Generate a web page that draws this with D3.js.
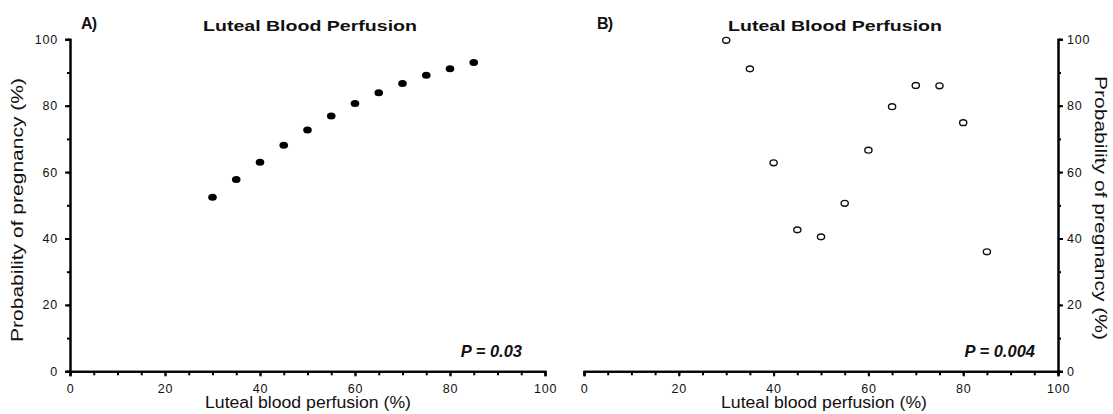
<!DOCTYPE html>
<html>
<head>
<script src="https://d3js.org/d3.v7.min.js"></script>
<style>
  body { margin: 0; background: #fff; }
  text { font-family: Arial, "Liberation Sans", sans-serif; fill: #111; }
</style>
</head>
<body>
<script>
// perfusion levels (%)
var perfusion = [30, 35, 40, 45, 50, 55, 60, 65, 70, 75, 80, 85];
// panel A: probability of pregnancy (%)
var probA = [52.4, 57.8, 63.0, 68.1, 72.7, 76.9, 80.7, 83.9, 86.7, 89.2, 91.1, 93.0];
// panel B: probability of pregnancy (%)
var probB = [99.7, 91.1, 62.8, 42.6, 40.5, 50.6, 66.6, 79.7, 86.1, 86.0, 74.9, 36.0];
var majorTicks = [0, 20, 40, 60, 80, 100];
var xMinor = d3.range(0, 101, 5);
var yMinor = d3.range(0, 101, 10);
var panelTitle = "Luteal Blood Perfusion";
var xTitle = "Luteal blood perfusion (%)";
var yTitle = "Probability of pregnancy (%)";
var pValues = ["P = 0.03", "P = 0.004"];

var width = 1113, height = 414;

var svg = d3.select("body").append("svg")
    .attr("width", width)
    .attr("height", height);

var y = d3.scaleLinear().domain([0, 100]).range([371.3, 39.3]);
var xA = d3.scaleLinear().domain([0, 100]).range([70, 545]);
var xB = d3.scaleLinear().domain([0, 100]).range([584, 1058]);

function styleAxis(g) {
  g.select(".domain").attr("stroke", "#000").attr("stroke-width", 2);
  g.selectAll(".tick line").attr("stroke", "#000").attr("stroke-width", 2);
  g.selectAll(".tick text").attr("font-size", 12.5).attr("fill", "#262626")
    .style("letter-spacing", "0.8px");
}

function drawPanel(x, yOrient, yPos) {
  // x axis: minor then major
  svg.append("g")
    .attr("transform", "translate(0," + y(0) + ")")
    .call(d3.axisBottom(x).tickValues(xMinor).tickSize(4).tickFormat(""))
    .call(styleAxis);
  svg.append("g")
    .attr("transform", "translate(0," + y(0) + ")")
    .call(d3.axisBottom(x).tickValues(majorTicks).tickSize(5).tickPadding(8).tickFormat(d3.format("d")))
    .call(styleAxis);

  var axisMaker = yOrient === "left" ? d3.axisLeft : d3.axisRight;
  svg.append("g")
    .attr("transform", "translate(" + yPos + ",0)")
    .call(axisMaker(y).tickValues(yMinor).tickSize(3).tickFormat(""))
    .call(styleAxis);
  svg.append("g")
    .attr("transform", "translate(" + yPos + ",0)")
    .call(axisMaker(y).tickValues(majorTicks).tickSize(5).tickPadding(yOrient === "left" ? 7 : 4).tickFormat(d3.format("d")))
    .call(styleAxis);
}

drawPanel(xA, "left", xA(0));
drawPanel(xB, "right", xB(100));

// points
svg.append("g").selectAll("ellipse")
  .data(perfusion)
  .join("ellipse")
    .attr("cx", function(d) { return xA(d); })
    .attr("cy", function(d, i) { return y(probA[i]); })
    .attr("rx", 4.3)
    .attr("ry", 3.5)
    .attr("fill", "#000");

svg.append("g").selectAll("ellipse")
  .data(perfusion)
  .join("ellipse")
    .attr("cx", function(d) { return xB(d); })
    .attr("cy", function(d, i) { return y(probB[i]); })
    .attr("rx", 3.6)
    .attr("ry", 2.9)
    .attr("fill", "none")
    .attr("stroke", "#111")
    .attr("stroke-width", 1.4);

// panel letters
svg.append("text").attr("x", 81).attr("y", 29).attr("font-size", 16)
  .attr("font-weight", "bold").attr("textLength", 16).text("A)");
svg.append("text").attr("x", 597).attr("y", 29).attr("font-size", 16)
  .attr("font-weight", "bold").attr("textLength", 16).text("B)");

// panel titles
[[310, 0], [835, 1]].forEach(function(p) {
  svg.append("text")
    .attr("x", p[0] - 107).attr("y", 30.5)
    .attr("font-size", 15).attr("font-weight", "bold")
    .attr("textLength", 214).attr("lengthAdjust", "spacingAndGlyphs")
    .text(panelTitle);
});

// x titles
[[308], [824]].forEach(function(p) {
  svg.append("text")
    .attr("x", p[0] - 103).attr("y", 408)
    .attr("font-size", 16).attr("fill", "#1a1a1a")
    .attr("textLength", 206).attr("lengthAdjust", "spacingAndGlyphs")
    .text(xTitle);
});

// y titles
svg.append("text")
  .attr("transform", "translate(23,210) rotate(-90)")
  .attr("x", -132).attr("font-size", 16).attr("fill", "#1a1a1a")
  .attr("textLength", 264).attr("lengthAdjust", "spacingAndGlyphs")
  .text(yTitle);
svg.append("text")
  .attr("transform", "translate(1095,208) rotate(90)")
  .attr("x", -132).attr("font-size", 16).attr("fill", "#1a1a1a")
  .attr("textLength", 264).attr("lengthAdjust", "spacingAndGlyphs")
  .text(yTitle);

// p values
svg.append("text").attr("x", 522).attr("y", 357.3)
  .attr("text-anchor", "end").attr("font-size", 16.5)
  .attr("font-weight", "bold").attr("font-style", "italic")
  .text(pValues[0]);
svg.append("text").attr("x", 1035).attr("y", 357.3)
  .attr("text-anchor", "end").attr("font-size", 16.5)
  .attr("font-weight", "bold").attr("font-style", "italic")
  .text(pValues[1]);
</script>
</body>
</html>
